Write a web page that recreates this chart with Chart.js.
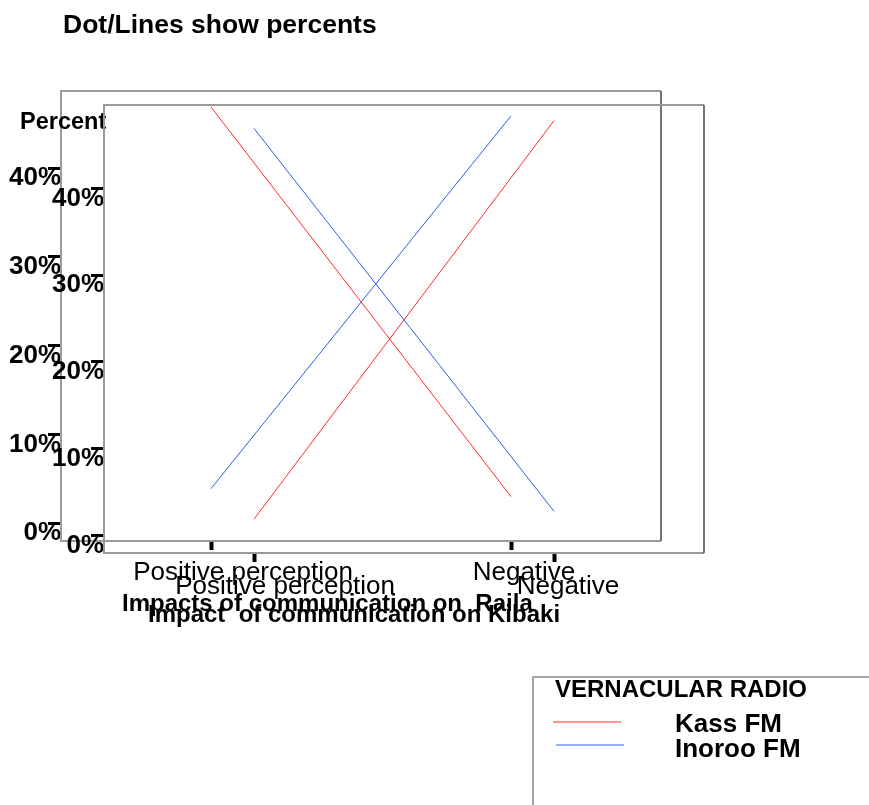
<!DOCTYPE html>
<html>
<head>
<meta charset="utf-8">
<script src="https://cdn.jsdelivr.net/npm/chart.js@4/dist/chart.umd.min.js"></script>
<style>
  body { margin: 0; background: #fff; }
  #wrap { position: relative; width: 869px; height: 805px; overflow: hidden; }
  #wrap canvas { position: absolute; left: 0; top: 0; }
</style>
</head>
<body>
<div id="wrap">
  <canvas id="raila" width="869" height="805"></canvas>
  <canvas id="kibaki" width="869" height="805"></canvas>
</div>
<script>
// categories and values (percent)
const categories = ['Positive perception', 'Negative'];
const seriesNames = ['Kass FM', 'Inoroo FM'];
const seriesColors = ['#ff2a2a', '#2a5ee0'];

const railaKass = [46.9, 3.0];
const railaInoroo = [3.9, 45.9];
const kibakiKass = [1.9, 47.8];
const kibakiInoroo = [46.9, 2.8];

const yTicks = [0, 10, 20, 30, 40];
const railaRange = [-2, 48.7];
const kibakiRange = [-2, 49.6];

Chart.defaults.font.family = '"Liberation Sans", Arial, sans-serif';
Chart.defaults.color = '#000';

// box, category labels, axis title and free texts
const decor = {
  id: 'decor',
  beforeDatasetsDraw(chart, args, opts) {
    const a = chart.chartArea, ctx = chart.ctx;
    ctx.save();
    ctx.strokeStyle = '#9a9a9a';
    ctx.lineWidth = 2;
    ctx.beginPath();
    ctx.moveTo(a.right, a.top);
    ctx.lineTo(a.left, a.top);
    ctx.lineTo(a.left, a.bottom);
    ctx.lineTo(a.right, a.bottom);
    ctx.stroke();
    ctx.strokeStyle = '#444';
    ctx.lineWidth = 1.5;
    ctx.beginPath();
    ctx.moveTo(a.right, a.top);
    ctx.lineTo(a.right, a.bottom);
    ctx.stroke();
    ctx.restore();
  },
  afterDraw(chart, args, opts) {
    const a = chart.chartArea, ctx = chart.ctx;
    const x = chart.scales.x;
    ctx.save();
    ctx.fillStyle = '#000';
    ctx.textBaseline = 'alphabetic';

    ctx.font = '26px "Liberation Sans", Arial, sans-serif';
    ctx.textAlign = 'center';
    chart.data.labels.forEach((lab, i) => {
      ctx.fillText(lab, x.getPixelForValue(i) + opts.labelShift[i], a.bottom + opts.labelDy);
    });

    ctx.textAlign = 'left';
    ctx.font = 'bold 24px "Liberation Sans", Arial, sans-serif';
    ctx.fillText(opts.axisTitle, a.left + opts.titleDx, a.bottom + opts.titleDy);

    (opts.texts || []).forEach(t => {
      ctx.font = t.font;
      ctx.fillText(t.text, t.x, t.y);
    });

    if (opts.legend) {
      const L = opts.legend;
      ctx.strokeStyle = '#8a8a8a';
      ctx.lineWidth = 1.5;
      ctx.beginPath();
      ctx.moveTo(chart.width, L.top);
      ctx.lineTo(L.left, L.top);
      ctx.lineTo(L.left, chart.height);
      ctx.stroke();
      ctx.font = 'bold 24px "Liberation Sans", Arial, sans-serif';
      ctx.fillText(L.title, L.left + 22, L.top + 20);
      chart.data.datasets.forEach((ds, i) => {
        const ly = L.top + 45 + i * 23;
        ctx.strokeStyle = ds.borderColor;
        ctx.lineWidth = 1;
        ctx.beginPath();
        ctx.moveTo(L.left + 20 + i * 3, ly);
        ctx.lineTo(L.left + 88 + i * 3, ly);
        ctx.stroke();
        ctx.font = 'bold 26px "Liberation Sans", Arial, sans-serif';
        ctx.fillText(ds.label, L.left + 142, ly + 10 + i * 2);
      });
    }
    ctx.restore();
  }
};

function makeChart(id, values, range, area, extra) {
  return new Chart(document.getElementById(id), {
    type: 'line',
    data: {
      labels: categories,
      datasets: values.map((v, i) => ({
        label: seriesNames[i],
        data: v,
        borderColor: seriesColors[i],
        borderWidth: 1,
        pointRadius: 0,
        fill: false,
        tension: 0
      }))
    },
    options: {
      responsive: false,
      animation: false,
      layout: {
        padding: { left: 0, top: area.top, right: 869 - area.right, bottom: 805 - area.bottom - 60 }
      },
      scales: {
        x: {
          type: 'category',
          offset: true,
          grid: { display: true, offset: false, drawOnChartArea: false, drawTicks: true, tickLength: 9, tickWidth: 4, tickColor: '#000' },
          border: { display: false },
          ticks: { display: false },
          afterFit: s => { s.height = 60; }
        },
        y: {
          min: range[0],
          max: range[1],
          afterBuildTicks: s => { s.ticks = yTicks.map(v => ({ value: v })); },
          grid: { display: true, drawOnChartArea: false, drawTicks: true, tickLength: 13, tickWidth: 3, tickColor: '#000' },
          border: { display: false },
          ticks: {
            padding: -13,
            labelOffset: 10,
            font: { size: 26, weight: 'bold' },
            callback: v => v + '%'
          },
          afterFit: s => { s.width = area.left; }
        }
      },
      plugins: {
        legend: { display: false },
        tooltip: { enabled: false },
        decor: extra
      }
    },
    plugins: [decor]
  });
}

makeChart('raila', [railaKass, railaInoroo], railaRange,
  { left: 61, top: 91, right: 661, bottom: 541 },
  {
    labelShift: [32, 13],
    labelDy: 39,
    axisTitle: 'Impacts of communication on  Raila',
    titleDx: 61,
    titleDy: 70,
    texts: [
      { text: 'Dot/Lines show percents', x: 63, y: 33, font: 'bold 26.5px "Liberation Sans", Arial, sans-serif' },
      { text: 'Percent', x: 20, y: 129, font: 'bold 23.5px "Liberation Sans", Arial, sans-serif' }
    ]
  });

makeChart('kibaki', [kibakiKass, kibakiInoroo], kibakiRange,
  { left: 104, top: 105, right: 704, bottom: 553 },
  {
    labelShift: [31, 14],
    labelDy: 41,
    axisTitle: 'Impact  of communication on Kibaki',
    titleDx: 44,
    titleDy: 69,
    legend: { left: 533, top: 677, title: 'VERNACULAR RADIO' }
  });
</script>
</body>
</html>
